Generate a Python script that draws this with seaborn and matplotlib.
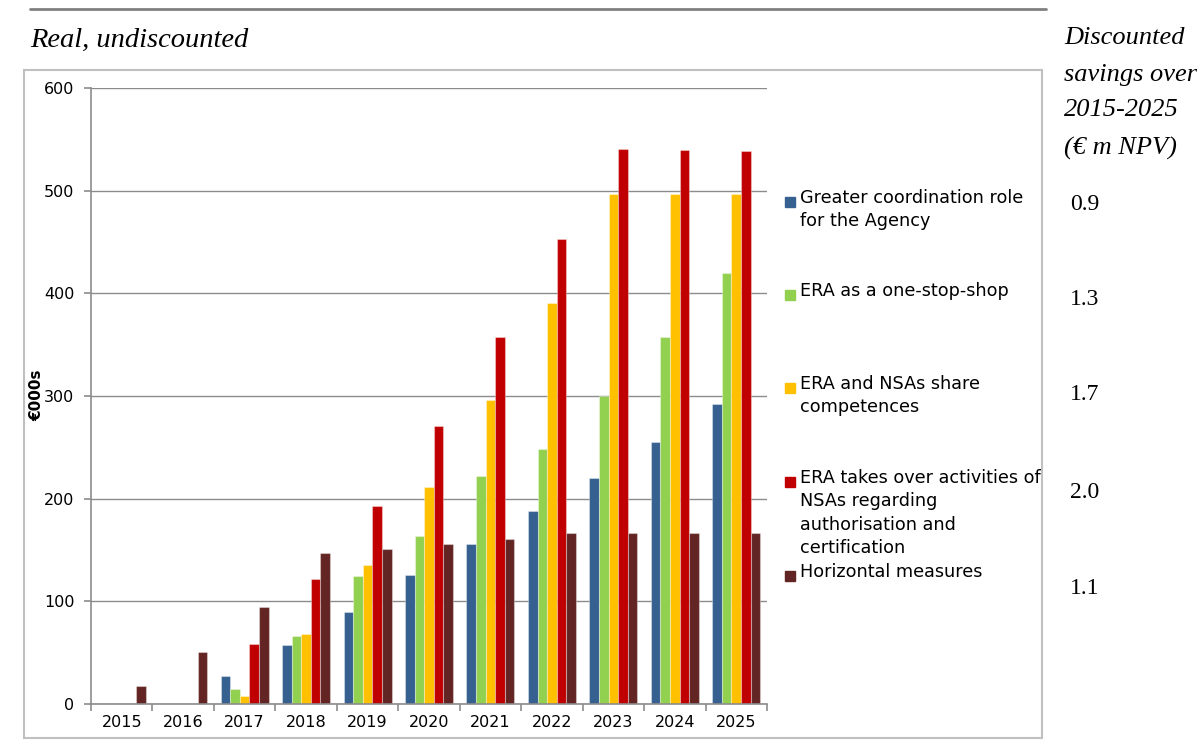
import pandas as pd
import matplotlib.pyplot as plt
import matplotlib.patches as mpatches
from matplotlib.lines import Line2D
import seaborn as sns

# Chart data (EUR 000s, real, undiscounted)
years = ['2015', '2016', '2017', '2018', '2019', '2020', '2021', '2022', '2023', '2024', '2025']
coordination = [0, 0, 27, 57, 90, 126, 156, 188, 220, 255, 292]
one_stop_shop = [0, 0, 15, 66, 125, 164, 222, 248, 300, 357, 420]
share_comp = [0, 0, 8, 68, 135, 211, 296, 391, 497, 497, 497]
takes_over = [0, 0, 58, 122, 193, 271, 357, 453, 541, 540, 539]
horizontal = [18, 51, 94, 147, 151, 156, 161, 167, 167, 167, 167]

series_names = ['Greater coordination role\nfor the Agency',
                'ERA as a one-stop-shop',
                'ERA and NSAs share\ncompetences',
                'ERA takes over activities of\nNSAs regarding\nauthorisation and\ncertification',
                'Horizontal measures']
npv = ['0.9', '1.3', '1.7', '2.0', '1.1']
colors = ['#35608F', '#92D050', '#FFC000', '#C00000', '#632523']

# long format for seaborn
all_series = [coordination, one_stop_shop, share_comp, takes_over, horizontal]
rows = []
for name, vals in zip(series_names, all_series):
    for yr, v in zip(years, vals):
        rows.append({'year': yr, 'value': v, 'series': name})
df = pd.DataFrame(rows)

sns.set_style('white')
plt.rcParams['font.family'] = ['DejaVu Sans']
plt.rcParams['text.color'] = 'black'
plt.rcParams['xtick.color'] = 'black'
plt.rcParams['ytick.color'] = 'black'

fig = plt.figure(figsize=(12, 7.51), dpi=100)
ax = fig.add_axes([91 / 1200, 1 - 704 / 751, 676 / 1200, 616 / 751])

sns.barplot(data=df, x='year', y='value', hue='series', palette=colors,
            saturation=1, width=0.78, legend=False, ax=ax,
            linewidth=0.8, edgecolor=(1, 1, 1, 0.35))

ax.set_ylim(0, 600)
ax.set_xlim(-0.5, len(years) - 0.5)
ax.set_yticks(range(0, 601, 100))
ax.yaxis.grid(True, color='#8c8c8c', linewidth=1.0)
ax.set_axisbelow(True)
ax.set_xlabel('')
ax.set_ylabel('')
for s in ['top', 'right']:
    ax.spines[s].set_visible(False)
for s in ['left', 'bottom']:
    ax.spines[s].set_color('#8c8c8c')
    ax.spines[s].set_linewidth(1.2)
ax.tick_params(axis='y', length=5, color='#8c8c8c', labelsize=11.5, pad=7, width=1.2, left=True)
ax.tick_params(axis='x', which='major', length=0, labelsize=11.5, pad=8)
ax.set_xticks([i - 0.5 for i in range(len(years) + 1)], minor=True)
ax.tick_params(axis='x', which='minor', length=5, color='#8c8c8c', width=1.2, bottom=True)

fig.text(37 / 1200, 1 - 395 / 751, '€000s', rotation=90, fontsize=11, fontweight='bold',
         ha='center', va='center')

# legend, drawn by hand so the multi-line entries line up like the original
entry_y = [202, 295, 388, 482, 576]
npv_y = [204, 300, 395, 492, 588]
for name, col, yy, val, ny in zip(series_names, colors, entry_y, npv, npv_y):
    fig.patches.append(mpatches.Rectangle((785 / 1200, 1 - (yy + 5) / 751), 10 / 1200, 10 / 751,
                                          transform=fig.transFigure, color=col))
    fig.text(800 / 1200, 1 - (yy - 13) / 751, name, fontsize=12.7, va='top', ha='left',
             linespacing=1.39)
    fig.text(1070 / 1200, 1 - ny / 751, val, fontsize=17, va='center', ha='left',
             family='Liberation Serif')

# titles
fig.text(30 / 1200, 1 - 40 / 751, 'Real, undiscounted', fontsize=20.5, style='italic',
         family='Liberation Serif', va='center')
for txt, yy in zip(['Discounted', 'savings over', '2015-2025', '(€ m NPV)'], [38, 75, 110, 148]):
    fig.text(1064 / 1200, 1 - yy / 751, txt, fontsize=19, style='italic',
             family='Liberation Serif', va='center')

# frame and top rule
fig.patches.append(mpatches.Rectangle((24 / 1200, 1 - 738 / 751), 1018 / 1200, 668 / 751,
                                      transform=fig.transFigure, fill=False,
                                      edgecolor='#c0c0c0', linewidth=1.5))
fig.lines.append(Line2D([30 / 1200, 1046 / 1200], [1 - 9 / 751, 1 - 9 / 751],
                        transform=fig.transFigure, color='#808080', linewidth=2))

plt.savefig('out.png', dpi=100)
